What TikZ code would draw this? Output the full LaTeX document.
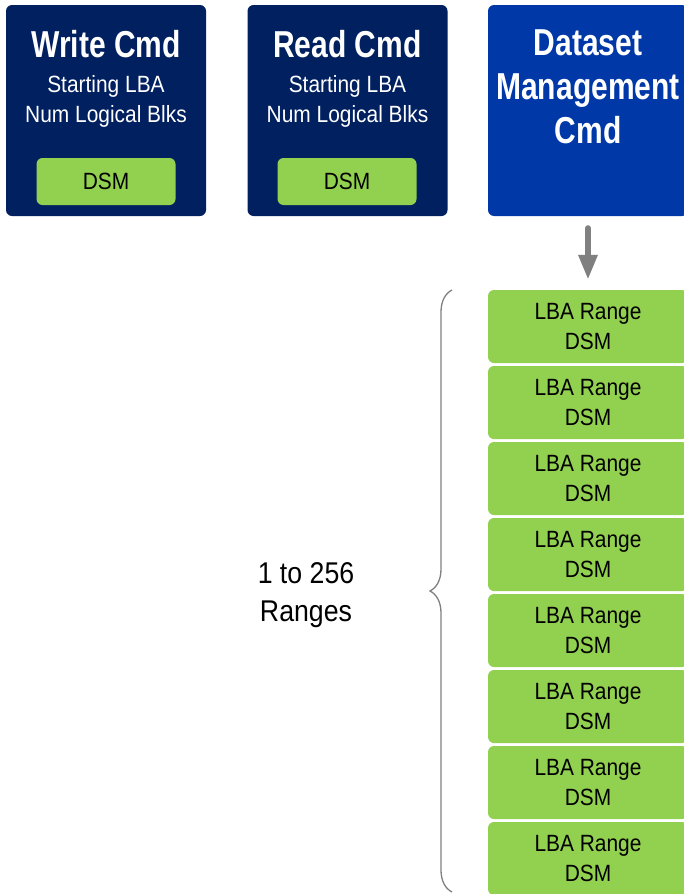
\documentclass[tikz,border=0pt]{standalone}
\usepackage{fontspec}
\setmainfont{Liberation Sans}[FakeStretch=0.89, BoldFeatures={FakeStretch=0.80}]
\usetikzlibrary{positioning, arrows.meta, decorations.pathreplacing}
\definecolor{navy}{RGB}{0,32,96}
\definecolor{royal}{RGB}{0,56,168}
\definecolor{leaf}{RGB}{146,208,80}
\definecolor{mid}{gray}{0.50}

\begin{document}
\begin{tikzpicture}[
  x=1pt, y=-1pt,
  cmd/.style={fill=navy, rounded corners=6pt, minimum width=200pt,
              minimum height=211pt, inner sep=0pt},
  dsm/.style={fill=leaf, rounded corners=6pt, minimum width=139pt,
              minimum height=47pt, inner sep=0pt,
              font=\fontsize{23.5}{28}\selectfont},
  rng/.style={fill=leaf, rounded corners=6pt, minimum width=200pt,
              minimum height=73pt, inner sep=0pt, align=center,
              font=\fontsize{23.5}{30}\selectfont},
  ttl/.style={anchor=base, text=white, inner sep=0pt,
              font=\fontsize{37.5}{44}\selectfont\bfseries},
  sub/.style={anchor=base, text=white, inner sep=0pt,
              font=\fontsize{23.5}{30}\selectfont},
]
\clip (0,0) rectangle (684,894);
\useasboundingbox (0,0) rectangle (684,894);

% command boxes
\node[cmd] (write) at (106,110.5) {};
\node[ttl] (wtitle) at (106,57) {Write Cmd};
\node[sub] (wlba) at (106,92) {Starting LBA};
\node[sub] (wblks) at (106,122) {Num Logical Blks};
\node[dsm] (wdsm) at (106,181.5) {DSM};

\node[cmd] (read) at (347.5,110.5) {};
\node[ttl] (rtitle) at (347.5,57) {Read Cmd};
\node[sub] (rlba) at (347.5,92) {Starting LBA};
\node[sub] (rblks) at (347.5,122) {Num Logical Blks};
\node[dsm] (rdsm) at (347,181.5) {DSM};

\node[cmd, fill=royal] (dset) at (588,110.5) {};
\node[ttl] (dtitle) at (588,55) {Dataset};
\node[ttl] (dmgmt) at (588,99) {Management};
\node[ttl] (dcmd) at (588,143) {Cmd};

% range list
\foreach \i in {1,...,8}{
  \node[rng] (rng\i) at (588,{326.5+(\i-1)*76}) {LBA Range\\DSM};
}

\draw[mid, line width=6pt, line cap=round, shorten <=12pt, shorten >=10pt,
      -{Triangle[width=18pt, length=25pt]}] (dset.south) -- (rng1.north);

\coordinate (btop) at (452,290);
\coordinate (bbot) at (452,892);
\draw[mid, line width=1.3pt, decorate,
      decoration={brace, amplitude=22pt}] (bbot) -- (btop);
\node[align=center, font=\fontsize{30}{38}\selectfont] (count) at (306,595)
  {1 to 256\\Ranges};
\end{tikzpicture}
\end{document}
